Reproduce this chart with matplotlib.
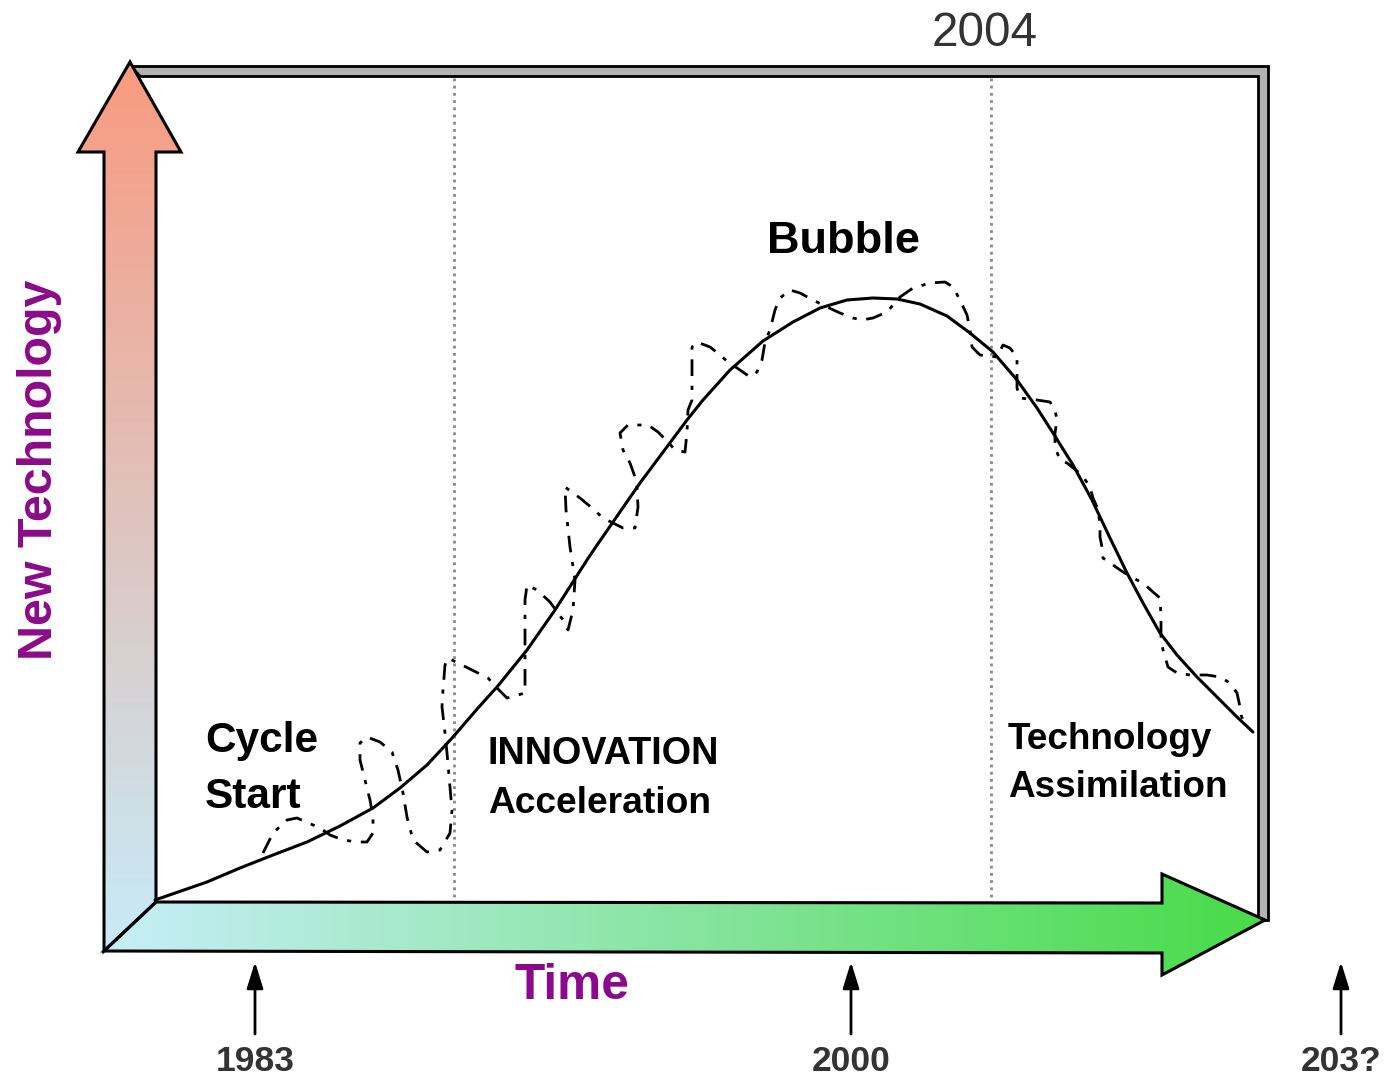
import numpy as np
import matplotlib
matplotlib.use("Agg")
import matplotlib.pyplot as plt
from matplotlib.patches import Polygon
from matplotlib.colors import to_rgb

# ---------------- data (pixel space) ----------------
trend_x = [155, 207, 240, 273, 307, 340, 373, 400, 427, 453, 478, 497, 527, 555, 587,
           595, 640, 687, 703, 730, 763, 793, 820, 847, 873, 897, 920, 947, 970, 993,
           1017, 1037, 1053, 1073, 1092, 1110, 1127, 1143, 1160, 1177, 1197, 1217, 1237, 1253]
trend_y = [900, 882, 868, 855, 842, 826, 808, 788, 765, 737, 708, 687, 650, 610, 560,
           548, 483, 420, 400, 370, 341, 322, 308, 300, 298, 299, 304, 316, 333, 352,
           380, 408, 433, 465, 500, 538, 573, 603, 633, 655, 677, 697, 717, 732]

wiggle_x = [263, 273, 287, 297, 320, 330, 343, 357, 367, 373, 373, 370, 365, 360, 360, 367,
            380, 392, 398, 403, 407, 413, 427, 440, 450, 452, 450, 447, 445, 442, 443, 445,
            448, 488, 497, 507, 525, 525, 525, 527, 537, 550, 563, 568, 573, 575, 572,
            570, 566, 565, 580, 592, 603, 623, 635, 638, 637, 635, 630, 623, 620, 628,
            648, 658, 668, 675, 685, 687, 688, 692, 692, 697, 710, 720, 728, 740, 750,
            757, 762, 765, 770, 775, 780, 790, 800, 813, 827, 840, 853, 862, 873, 887,
            900, 913, 930, 945, 953, 960, 967, 970, 972, 980, 988, 997, 1003, 1010, 1017,
            1017, 1017, 1020, 1037, 1050, 1055, 1057, 1055, 1055, 1060, 1067, 1082, 1090,
            1093, 1097, 1100, 1100, 1102, 1103, 1113, 1123, 1137, 1143, 1153, 1160, 1161,
            1161, 1163, 1168, 1177, 1190, 1207, 1220, 1230, 1237, 1240, 1241, 1245]
wiggle_y = [853, 833, 820, 818, 828, 835, 840, 842, 842, 833, 817, 800, 780, 760, 743, 737,
            742, 752, 770, 793, 817, 840, 852, 850, 833, 810, 787, 753, 733, 707, 690, 665,
            658, 678, 688, 698, 693, 650, 600, 585, 590, 602, 620, 630, 610, 580, 560,
            547, 510, 487, 498, 508, 518, 528, 528, 507, 487, 477, 463, 450, 433, 425,
            425, 432, 442, 450, 452, 432, 410, 400, 347, 342, 347, 355, 362, 370, 377,
            372, 360, 342, 330, 310, 298, 290, 293, 300, 307, 313, 318, 320, 318, 312,
            297, 288, 283, 282, 287, 300, 315, 330, 347, 355, 356, 357, 345, 348, 357,
            370, 388, 398, 400, 402, 410, 420, 433, 447, 460, 463, 475, 487,
            498, 507, 523, 537, 547, 558, 565, 572, 580, 583, 592, 598, 617,
            637, 650, 667, 673, 675, 675, 677, 683, 693, 707, 715, 725]

phase_lines_x = [454, 991]
year_labels = ["1983", "2000", "203?"]
year_x = [255, 851, 1341]

PURPLE = "#8B0A8B"
GRAY_TXT = "#333333"

# ---------------- figure ----------------
W, H = 1386, 1080
fig = plt.figure(figsize=(W / 100, H / 100), dpi=100)
ax = fig.add_axes([0, 0, 1, 1])
ax.set_xlim(0, W)
ax.set_ylim(H, 0)
ax.axis("off")
plt.rcParams["font.family"] = ["Liberation Sans", "DejaVu Sans"]

# grey frame (top & right)
frame = Polygon([(130, 66), (1268, 66), (1268, 920), (1258, 920), (1258, 76), (140, 76)],
                closed=True, facecolor="#B3B3B3", edgecolor="black", lw=2, zorder=2)
ax.add_patch(frame)

# phase separators
for px in phase_lines_x:
    ax.plot([px, px], [78, 900], color="#888888", lw=2, ls=(0, (1, 1.6)), zorder=1)


def gradient_patch(verts, c0, c1, direction, extent):
    poly = Polygon(verts, closed=True, facecolor="none", edgecolor="black",
                   lw=2.2, zorder=5, joinstyle="miter")
    ax.add_patch(poly)
    c0 = np.array(to_rgb(c0)); c1 = np.array(to_rgb(c1))
    t = np.linspace(0, 1, 256)
    cols = c0[None, :] * (1 - t[:, None]) + c1[None, :] * t[:, None]
    if direction == "v":
        img = cols[:, None, :]
    else:
        img = cols[None, :, :]
    im = ax.imshow(img, extent=extent, origin="upper", aspect="auto",
                   interpolation="bilinear", zorder=4)
    im.set_clip_path(poly)


# vertical arrow (New Technology)
v_verts = [(130, 62), (181, 152), (156, 152), (156, 902), (104, 951), (104, 152), (78, 152)]
gradient_patch(v_verts, "#F99A80", "#C7EBF9", "v", (78, 181, 951, 62))

# horizontal arrow (Time)
h_verts = [(104, 951), (156, 902), (1162, 903), (1162, 874), (1265, 920),
           (1162, 975), (1162, 953)]
gradient_patch(h_verts, "#C7EEF9", "#48DB48", "h", (104, 1265, 975, 874))

ax.set_xlim(0, W)
ax.set_ylim(H, 0)

# curves
ax.plot(trend_x, trend_y, color="black", lw=2.2, zorder=6, solid_capstyle="round",
        solid_joinstyle="round")
ax.plot(wiggle_x, wiggle_y, color="black", lw=2.0, zorder=6,
        ls=(0, (6, 3.5, 1.5, 3.5)))

# texts
ax.text(985, 46, "2004", fontsize=34.3, color=GRAY_TXT, ha="center", va="baseline")
ax.text(843, 253, "Bubble", fontsize=32.5, fontweight="bold", ha="center", va="baseline")
ax.text(205, 752, "Cycle", fontsize=30.5, fontweight="bold", ha="left", va="baseline")
ax.text(205, 808, "Start", fontsize=30.5, fontweight="bold", ha="left", va="baseline")
ax.text(488, 764, "INNOVATION", fontsize=27.2, fontweight="bold", ha="left", va="baseline")
ax.text(488, 813, "Acceleration", fontsize=26.7, fontweight="bold", ha="left", va="baseline")
ax.text(1008, 749, "Technology", fontsize=26.6, fontweight="bold", ha="left", va="baseline")
ax.text(1008, 797, "Assimilation", fontsize=26.6, fontweight="bold", ha="left", va="baseline")
ax.text(572, 999, "Time", fontsize=35.7, fontweight="bold", color=PURPLE,
        ha="center", va="baseline")
ax.text(52, 470, "New Technology", fontsize=34.8, fontweight="bold", color=PURPLE,
        rotation=90, rotation_mode="anchor", ha="center", va="baseline")

for lab, x in zip(year_labels, year_x):
    ax.annotate("", xy=(x, 962), xytext=(x, 1034),
                arrowprops=dict(arrowstyle="-|>,head_length=0.8,head_width=0.25",
                                color="black", lw=2, mutation_scale=20,
                                shrinkA=0, shrinkB=0))
    ax.text(x, 1071, lab, fontsize=25.5, fontweight="bold", color=GRAY_TXT,
            ha="center", va="baseline")

fig.savefig("out.png", dpi=100)
